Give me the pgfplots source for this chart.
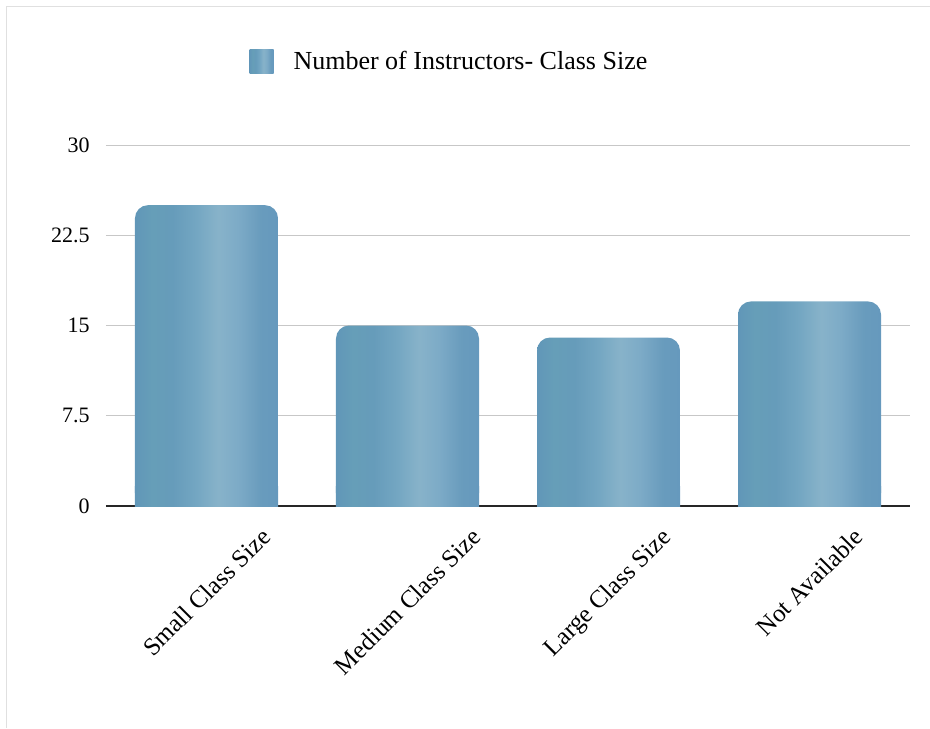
\documentclass[border=0pt]{standalone}
\usepackage{pgfplots}
\pgfplotsset{compat=1.18}
\usepackage{graphicx}
\usepackage{fontspec}
\setmainfont{Liberation Serif}

% brushed steel-blue fill that varies softly across the width of a bar
\pgfdeclarehorizontalshading{barshade}{100bp}{%
  rgb(0bp)=(0.38,0.59,0.72);
  rgb(25bp)=(0.38,0.59,0.72);
  rgb(31bp)=(0.40,0.62,0.72);
  rgb(38bp)=(0.40,0.61,0.73);
  rgb(46bp)=(0.45,0.65,0.76);
  rgb(54bp)=(0.53,0.70,0.79);
  rgb(61bp)=(0.49,0.67,0.78);
  rgb(69bp)=(0.41,0.61,0.74);
  rgb(75bp)=(0.40,0.60,0.74);
  rgb(100bp)=(0.40,0.60,0.74)}

\tikzset{
  % bar with rounded top corners and a square foot
  roundtop bar/.style={
    draw=none, fill=none,
    path picture={
      \shade[path picture={}, shading=barshade, rounded corners=6.5pt]
        (path picture bounding box.south west) rectangle
        (path picture bounding box.north east);
      \shade[path picture={}, shading=barshade]
        (path picture bounding box.south west) rectangle
        ([yshift=10pt]path picture bounding box.south east);
    }
  }
}

\begin{document}
\begin{tikzpicture}
\useasboundingbox (-53pt,-111pt) rectangle (412pt,253pt);
% frame
\draw[black!12, line width=0.5pt] (-49.5pt,-111pt) -- (-49.5pt,249.5pt) -- (412pt,249.5pt);
\begin{axis}[
  at={(0pt,0pt)}, anchor=south west,
  scale only axis, width=402pt, height=180.5pt,
  xmin=-0.5, xmax=3.5, ymin=0, ymax=30,
  enlargelimits=false,
  axis x line*=bottom,
  axis y line*=left,
  x axis line style={draw=black!85, line width=0.8pt, -},
  y axis line style={draw=none},
  major tick length=0pt,
  ytick={0,7.5,15,22.5,30},
  ymajorgrids,
  grid style={black!22, line width=0.5pt},
  /pgf/number format/assume math mode=true,
  yticklabel style={font=\fontsize{11}{13}\selectfont, anchor=east, inner sep=0pt, xshift=-8pt},
  xtick={0,1,2,3},
  xticklabels={\rotatebox{45}{Small Class Size},
               \rotatebox{45}{Medium Class Size},
               \rotatebox{45}{Large Class Size},
               \rotatebox{45}{Not Available}},
  xticklabel style={font=\fontsize{12.5}{15}\selectfont, anchor=north, inner sep=0pt, yshift=-10pt},
  legend style={at={(axis description cs:0.178,1.23)}, anchor=west,
    draw=none, fill=none, inner sep=0pt,
    nodes={inner sep=0pt},
    font=\fontsize{13}{15}\selectfont},
  legend image code/.code={
    \shade[path picture={}, shading=barshade] (0pt,-6pt) rectangle (12pt,6pt);
    \path[path picture={}] (22pt,0pt);
  },
]
\addplot[ybar, bar width=71.5pt, bar shift=0pt, roundtop bar] coordinates {(0,25)};
\addlegendentry{Number of Instructors- Class Size}
\addplot[ybar, bar width=71.5pt, bar shift=0pt, roundtop bar, forget plot] coordinates {(1,15)};
\addplot[ybar, bar width=71.5pt, bar shift=0pt, roundtop bar, forget plot] coordinates {(2,14)};
\addplot[ybar, bar width=71.5pt, bar shift=0pt, roundtop bar, forget plot] coordinates {(3,17)};
\end{axis}
\end{tikzpicture}
\end{document}
